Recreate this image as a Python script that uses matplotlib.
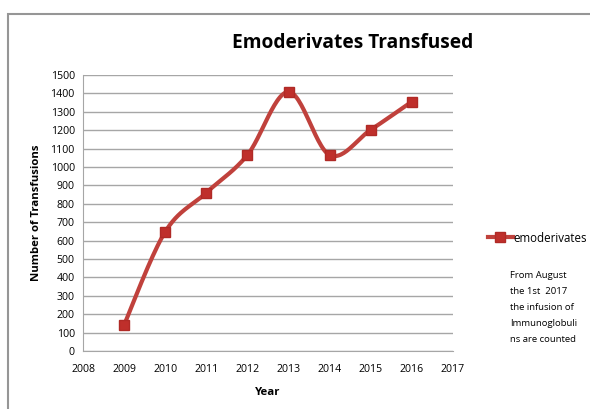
import numpy as np
import matplotlib.pyplot as plt
from matplotlib.patches import Rectangle
from matplotlib.lines import Line2D

plt.rcParams['font.family'] = ['Open Sans', 'DejaVu Sans']

years = [2009, 2010, 2011, 2012, 2013, 2014, 2015, 2016]
transfusions = [142, 648, 860, 1065, 1408, 1065, 1202, 1355]
series_name = 'emoderivates'
note = 'From August\nthe 1st  2017\nthe infusion of\nImmunoglobuli\nns are counted'


def smooth(x, y, n=30):
    # excel style smoothed line (catmull-rom bezier)
    x = np.asarray(x, float)
    y = np.asarray(y, float)
    px = np.concatenate([[x[0]], x, [x[-1]]])
    py = np.concatenate([[y[0]], y, [y[-1]]])
    t = np.linspace(0, 1, n)
    xs, ys = [], []
    for i in range(1, len(px) - 2):
        p0 = np.array([px[i], py[i]])
        p3 = np.array([px[i + 1], py[i + 1]])
        p1 = p0 + (np.array([px[i + 1], py[i + 1]]) - np.array([px[i - 1], py[i - 1]])) / 6
        p2 = p3 - (np.array([px[i + 2], py[i + 2]]) - np.array([px[i], py[i]])) / 6
        b = ((1 - t) ** 3)[:, None] * p0 + (3 * (1 - t) ** 2 * t)[:, None] * p1 \
            + (3 * (1 - t) * t ** 2)[:, None] * p2 + (t ** 3)[:, None] * p3
        xs.extend(b[:, 0])
        ys.extend(b[:, 1])
    return np.array(xs), np.array(ys)


fig = plt.figure(figsize=(5.9, 4.09), dpi=100)
ax = fig.add_axes([0.1407, 0.1418, 0.627, 0.675])

fig.patches.append(Rectangle((8 / 590, -0.1), 1.2, 1 - 14 / 409 + 0.1, transform=fig.transFigure,
                             fill=False, edgecolor='#969696', linewidth=1.5))

sx, sy = smooth(years, transfusions)
red = '#c0413c'
ax.plot(sx, sy, color=red, linewidth=3.0, solid_capstyle='round', zorder=3)
ax.plot(years, transfusions, linestyle='none', marker='s', markersize=6.8,
        color='#bf2f2b', markeredgecolor='#b02a26', zorder=4)

ax.set_xlim(2008, 2017)
ax.set_ylim(0, 1500)
ax.set_xticks(range(2008, 2018))
ax.set_yticks(range(0, 1501, 100))
ax.tick_params(length=0, labelsize=7.6, pad=6)
ax.tick_params(axis='x', pad=9)
ax.yaxis.grid(True, color='#a6a6a6', linewidth=1)
ax.set_axisbelow(True)
for s in ['top', 'right']:
    ax.spines[s].set_visible(False)
for s in ['left', 'bottom']:
    ax.spines[s].set_color('#a6a6a6')

ax.set_xlabel('Year', fontsize=8.2, fontweight='bold', labelpad=9)
ax.set_ylabel('Number of Transfusions', fontsize=8.2, fontweight='bold', labelpad=6)
fig.text(353 / 590, 1 - 43 / 409, 'Emoderivates Transfused', fontsize=13.8, fontweight='bold',
         ha='center', va='center')

handle = Line2D([], [], color=red, linewidth=3.0, marker='s', markersize=6.5,
                markerfacecolor='#bf2f2b', markeredgecolor='#b02a26')
fig.legend([handle], [series_name], loc='center left', bbox_to_anchor=(482 / 590, 1 - 238 / 409),
           frameon=False, fontsize=8.3, handlelength=2.2, handletextpad=0.0, borderpad=0)

fig.text(510 / 590, 1 - 271 / 409, note, fontsize=6.8, va='top', ha='left', linespacing=2.0)

fig.savefig('out.png', dpi=100)
